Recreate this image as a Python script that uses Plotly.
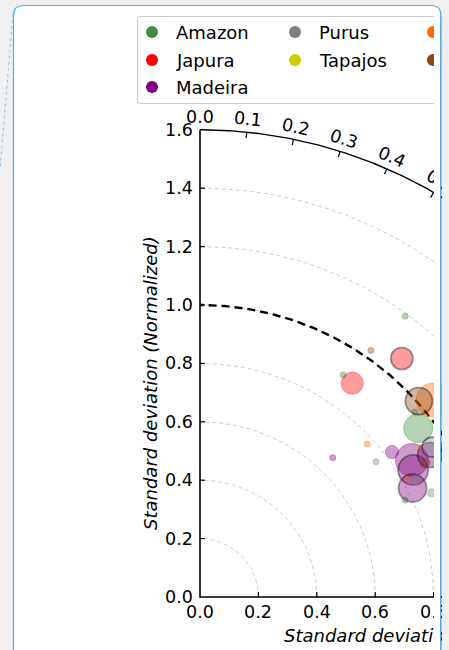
import numpy as np
import plotly.graph_objects as go

# ---------------- data (normalized std, correlation, bubble size, dark edge flag) ----------------
amazon_std = [1.191, 0.905, 0.945, 0.971, 0.777]
amazon_corr = [0.590, 0.542, 0.791, 0.758, 0.904]
amazon_bubble = [6, 6, 29, 6, 6]
amazon_edge = [0, 0, 0, 0, 0]

japura_std = [1.070, 0.899]
japura_corr = [0.646, 0.580]
japura_bubble = [22, 22]
japura_edge = [1, 0]

madeira_std = [0.659, 0.824, 0.864, 0.850, 0.926, 0.818]
madeira_corr = [0.690, 0.798, 0.840, 0.859, 0.851, 0.890]
madeira_bubble = [6, 13, 33, 30, 25, 28]
madeira_edge = [0, 0, 0, 1, 1, 1]

purus_std = [0.946, 0.760, 0.841, 0.870]
purus_corr = [0.840, 0.793, 0.879, 0.912]
purus_bubble = [20, 6, 10, 8]
purus_edge = [1, 0, 0, 0]

tapajos_std = []
tapajos_corr = []
tapajos_bubble = []
tapajos_edge = []

orange_std = [1.045, 0.776, 0.818, 0.912]
orange_corr = [0.764, 0.738, 0.869, 0.826]
orange_bubble = [34, 6, 5, 4]
orange_edge = [0, 0, 0, 0]

brown_std = [1.027, 1.006, 0.897]
brown_corr = [0.570, 0.745, 0.859]
brown_bubble = [6, 27, 10]
brown_edge = [0, 1, 0]

legend_names = ["Amazon", "Japura", "Madeira", "Purus", "Tapajos"]
std_ticks = [0.0, 0.2, 0.4, 0.6, 0.8, 1.0, 1.2, 1.4, 1.6]
corr_ticks = [0.0, 0.1, 0.2, 0.3, 0.4, 0.5, 0.6, 0.7, 0.8, 0.9, 0.95, 0.99]
std_max = 1.6
ref_std = 1.0

# ---------------- layout constants ----------------
W, H = 449, 650
SCALE = 292.0          # px per unit std
OX, OY = 200.0, 597.0  # origin in px
FONT = "DejaVu Sans"
BG = "#f0f0f0"
CARD = "#5ba8de"

colors = {
    "Amazon": (64, 140, 64),
    "Japura": (255, 0, 0),
    "Madeira": (128, 0, 128),
    "Purus": (128, 128, 128),
    "Tapajos": (204, 204, 0),
    "C6": (255, 106, 0),
    "C7": (139, 69, 19),
}

series = [
    ("Amazon", amazon_std, amazon_corr, amazon_bubble, amazon_edge),
    ("Japura", japura_std, japura_corr, japura_bubble, japura_edge),
    ("Madeira", madeira_std, madeira_corr, madeira_bubble, madeira_edge),
    ("Purus", purus_std, purus_corr, purus_bubble, purus_edge),
    ("Tapajos", tapajos_std, tapajos_corr, tapajos_bubble, tapajos_edge),
    ("C6", orange_std, orange_corr, orange_bubble, orange_edge),
    ("C7", brown_std, brown_corr, brown_bubble, brown_edge),
]


def rgba(c, a):
    return f"rgba({c[0]},{c[1]},{c[2]},{a})"


def to_xy(s, c):
    s = np.asarray(s, float)
    c = np.asarray(c, float)
    return s * c, s * np.sqrt(np.clip(1 - c ** 2, 0, None))


fig = go.Figure()

# grid arcs
t = np.linspace(0, np.pi / 2, 300)
for r in std_ticks[1:-1]:
    fig.add_trace(go.Scatter(x=r * np.cos(t), y=r * np.sin(t), mode="lines",
                             line=dict(color="#c8c8c8", width=0.9, dash="4px,3px"),
                             hoverinfo="skip", showlegend=False))

# outer arc and axes
fig.add_trace(go.Scatter(x=std_max * np.cos(t), y=std_max * np.sin(t), mode="lines",
                         line=dict(color="black", width=1.4), hoverinfo="skip", showlegend=False))
fig.add_trace(go.Scatter(x=[0, 0, std_max], y=[std_max, 0, 0], mode="lines",
                         line=dict(color="black", width=1.6), hoverinfo="skip", showlegend=False))

# correlation ticks on the arc (inward)
tx, ty = [], []
dr = 6 / SCALE
for c in corr_ticks[1:]:
    th = np.arccos(c)
    tx += [std_max * np.cos(th), (std_max - dr) * np.cos(th), None]
    ty += [std_max * np.sin(th), (std_max - dr) * np.sin(th), None]
fig.add_trace(go.Scatter(x=tx, y=ty, mode="lines", line=dict(color="black", width=1.2),
                         hoverinfo="skip", showlegend=False))

# std ticks (inward)
sx, sy = [], []
for v in std_ticks[1:-1]:
    sx += [v, v, None, 0, 5 / SCALE, None]
    sy += [0, 5 / SCALE, None, v, v, None]
fig.add_trace(go.Scatter(x=sx, y=sy, mode="lines", line=dict(color="black", width=1.2),
                         hoverinfo="skip", showlegend=False))

# reference std arc
fig.add_trace(go.Scatter(x=ref_std * np.cos(t), y=ref_std * np.sin(t), mode="lines",
                         line=dict(color="black", width=2.4, dash="8px,5px"),
                         hoverinfo="skip", showlegend=False))

# data points
for name, s, c, b, e in series:
    if len(s) == 0:
        continue
    x, y = to_xy(s, c)
    col = colors[name]
    fig.add_trace(go.Scatter(
        x=x, y=y, mode="markers", name=name, showlegend=False,
        marker=dict(size=b, color=rgba(col, 0.55),
                    line=dict(width=[1.7 if ee else 1.0 for ee in e],
                              color=["rgba(0,0,0,0.6)" if ee else rgba(col, 0.6) for ee in e]))))

# legend markers (layout pixel axes)
leg_cols = [("Amazon", 152, 32), ("Japura", 152, 60), ("Madeira", 152, 87),
            ("Purus", 295, 32), ("Tapajos", 295, 60), ("C6", 433, 32), ("C7", 433, 60)]
fig.add_trace(go.Scatter(
    x=[p[1] for p in leg_cols], y=[p[2] for p in leg_cols], xaxis="x2", yaxis="y2",
    mode="markers", marker=dict(size=12, color=[rgba(colors[p[0]], 1) for p in leg_cols]),
    hoverinfo="skip", showlegend=False))

ann = []
tick_font = dict(family=FONT, size=17.5, color="black")
for v in std_ticks:
    ann.append(dict(x=0, y=v, xref="x", yref="y", text=f"{v:.1f}", showarrow=False,
                    xanchor="right", yanchor="middle", xshift=-5, font=tick_font))
for v in std_ticks[:5]:
    ann.append(dict(x=v, y=0, xref="x", yref="y", text=f"{v:.1f}", showarrow=False,
                    xanchor="center", yanchor="middle", yshift=-15, font=tick_font))
for c in corr_ticks[:6]:
    th = np.arccos(c)
    rl = 1.644
    ann.append(dict(x=rl * np.cos(th), y=rl * np.sin(th), xref="x", yref="y",
                    text=f"{c:.1f}", showarrow=False, textangle=90 - np.degrees(th),
                    font=tick_font))

lab_font = dict(family=FONT, size=18, color="black")
ann.append(dict(x=150, y=383, xref="x2", yref="y2", text="<i>Standard deviation (Normalized)</i>",
                showarrow=False, textangle=-90, font=lab_font))
ann.append(dict(x=282, y=635, xref="x2", yref="y2", text="<i>Standard deviation (Normalized)</i>",
                showarrow=False, xanchor="left", yanchor="middle", font=lab_font))

for name, px, py in leg_cols[:5]:
    ann.append(dict(x=px + 22, y=py, xref="x2", yref="y2", text=name, showarrow=False,
                    xanchor="left", yanchor="middle", font=lab_font))


# masks for the cropped right side (paper coordinates)
def mask(x0, y0, w, h, col):
    return dict(x=x0 / W, y=1 - y0 / H, xref="paper", yref="paper", text=".",
                font=dict(size=6, color=col), showarrow=False, xanchor="left",
                yanchor="top", width=w, height=h, bgcolor=col, borderpad=0, borderwidth=0)


ann.append(mask(434, 16, 7, 640, "white"))
ann.append(mask(441.5, 0, 12, 650, BG))
ann.append(mask(440.4, 15, 1.2, 640, CARD))

shapes = [
    dict(type="path", xref="x2", yref="y2", layer="below",
         path="M 13.5,700 L 13.5,15.5 Q 13.5,5.5 23.5,5.5 L 431,5.5 Q 441,5.5 441,15.5 L 441,700 Z",
         fillcolor="white", line=dict(color=CARD, width=1.2)),
    dict(type="line", xref="x2", yref="y2", x0=13, y0=14, x1=0, y1=170,
         line=dict(color="#8cc0e6", width=1, dash="dot")),
    dict(type="path", xref="x2", yref="y2", layer="below",
         path="M 440,16.5 L 141.5,16.5 Q 137.5,16.5 137.5,20.5 L 137.5,99.5 Q 137.5,103.5 141.5,103.5 L 440,103.5",
         fillcolor="rgba(255,255,255,0)", line=dict(color="#cccccc", width=1.2)),
]

fig.update_layout(
    width=W, height=H, margin=dict(l=0, r=0, t=0, b=0),
    paper_bgcolor=BG, plot_bgcolor="rgba(0,0,0,0)",
    xaxis=dict(range=[(0 - OX) / SCALE, (W - OX) / SCALE], visible=False, fixedrange=True),
    yaxis=dict(range=[(OY - H) / SCALE, OY / SCALE], visible=False, fixedrange=True),
    xaxis2=dict(range=[0, W], overlaying="x", visible=False, fixedrange=True),
    yaxis2=dict(range=[H, 0], overlaying="y", visible=False, fixedrange=True),
    annotations=ann, shapes=shapes, showlegend=False,
)

fig.write_html("out.html")
